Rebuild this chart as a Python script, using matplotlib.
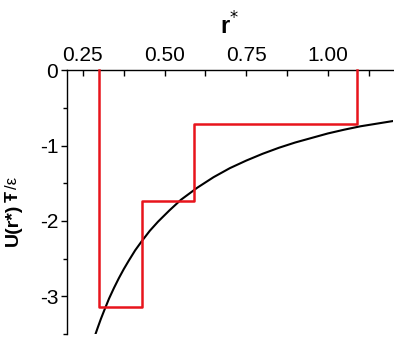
import matplotlib
matplotlib.use("Agg")
import matplotlib.pyplot as plt
from matplotlib.ticker import MultipleLocator

plt.rcParams['font.family'] = ['Liberation Sans', 'DejaVu Sans']

# curve
r_curve = [0.287, 0.295, 0.305, 0.315, 0.33, 0.345, 0.36, 0.375, 0.39, 0.41, 0.43,
           0.455, 0.48, 0.515, 0.55, 0.575, 0.60, 0.625, 0.65, 0.675, 0.70,
           0.75, 0.80, 0.85, 0.90, 0.95, 1.00, 1.05, 1.10, 1.15, 1.20]
u_curve = [-3.52, -3.42, -3.30, -3.19, -3.03, -2.89, -2.76, -2.64, -2.53, -2.39, -2.27,
           -2.13, -2.01, -1.86, -1.72, -1.64, -1.56, -1.49, -1.42, -1.36, -1.30,
           -1.20, -1.11, -1.03, -0.96, -0.90, -0.84, -0.79, -0.745, -0.71, -0.675]

# square well steps
step_edges = [0.30, 0.43, 0.59, 1.09]
step_levels = [-3.14, -1.73, -0.72]

xs = [step_edges[0]]
ys = [0]
for i, lev in enumerate(step_levels):
    xs += [step_edges[i], step_edges[i + 1]]
    ys += [lev, lev]
xs.append(step_edges[-1])
ys.append(0)

fig = plt.figure(figsize=(3.94, 3.42), dpi=100)
ax = fig.add_axes([0.169, 0.0234, 0.829, 0.7716])

ax.plot(r_curve, u_curve, color='black', lw=1.5, zorder=2)
ax.plot(xs, ys, color='#e8141c', lw=1.8, zorder=3, clip_on=False)

ax.set_xlim(0.2, 1.2)
ax.set_ylim(-3.5, 0)

ax.spines['right'].set_visible(False)
ax.spines['bottom'].set_visible(False)
for s in ['top', 'left']:
    ax.spines[s].set_linewidth(1.0)

ax.xaxis.tick_top()
ax.xaxis.set_label_position('top')
ax.xaxis.set_minor_locator(MultipleLocator(0.125))
ax.set_xticks([0.25, 0.50, 0.75, 1.00])
ax.set_xticklabels(['0.25', '0.50', '0.75', '1.00'])
ax.yaxis.set_minor_locator(MultipleLocator(0.5))
ax.set_yticks([0, -1, -2, -3])
ax.set_yticklabels(['0', '-1', '-2', '-3'])

ax.tick_params(axis='x', which='both', direction='in', length=4, width=1, labelsize=15, pad=4)
ax.tick_params(axis='y', which='major', direction='out', length=4, width=1, labelsize=15, pad=2)
ax.tick_params(axis='y', which='minor', direction='out', length=3, width=1)

ax.set_xlabel('r$^{*}$', fontsize=17, fontweight='bold', labelpad=8)

# y label pieces, stacked along the rotated baseline
fig.text(0.046, 0.282, 'U(r*)', rotation=90, rotation_mode='anchor', fontsize=14,
         fontweight='bold', ha='left', va='baseline')
fig.text(0.046, 0.408, 'Ŧ', rotation=90, rotation_mode='anchor', fontsize=13,
         fontweight='bold', ha='left', va='baseline')
fig.text(0.044, 0.448, '/ε', rotation=90, rotation_mode='anchor', fontsize=12,
         ha='left', va='baseline')

fig.savefig('out.png', dpi=100)
